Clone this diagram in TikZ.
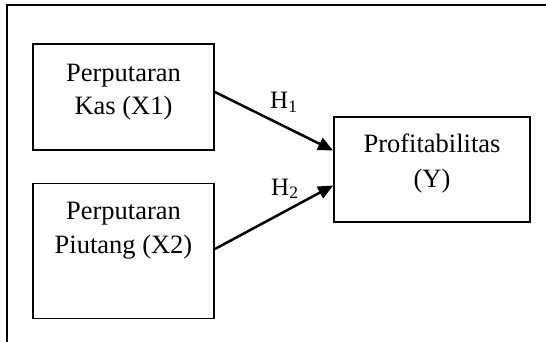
\documentclass[tikz,border=0pt]{standalone}
\usepackage{fontspec}
\setmainfont{Liberation Serif}
\usetikzlibrary{arrows.meta}
\begin{document}
\begin{tikzpicture}[x=1pt,y=-1pt,
  box/.style={draw,line width=1.8pt,inner sep=0pt},
  txt/.style={inner sep=0pt,anchor=base,font=\fontsize{26.5}{33}\selectfont},
  hlab/.style={inner sep=0pt,anchor=base west,font=\fontsize{25}{30}\selectfont},
  arr/.style={line width=2.5pt,-{Triangle[length=15pt,width=13pt]}}]
\useasboundingbox (0,0) rectangle (546,342);
\draw[line width=1.8pt] (546,5) -- (7,5) -- (7,342);
\node[box,minimum width=181pt,minimum height=106pt] (a) at (123.5,97) {};
\node[box,minimum width=181pt,minimum height=135pt] (b) at (123.5,251) {};
\node[box,minimum width=196pt,minimum height=105pt] (c) at (432,169.5) {};
\node[txt] (a1) at (123.5,82) {Perputaran};
\node[txt] (a2) at (123.5,115) {Kas (X1)};
\node[txt] (b1) at (123.5,219.5) {Perputaran};
\node[txt] (b2) at (123.5,253) {Piutang (X2)};
\node[txt] (c1) at (432,153) {Profitabilitas};
\node[txt] (c2) at (432,187) {(Y)};
\draw[arr] ([yshift=5pt]a.east) -- ([yshift=19pt]c.west);
\draw[arr] ([yshift=2pt]b.east) -- ([yshift=-16pt]c.west);
\node[hlab] (h1) at (270,109) {H\textsubscript{1}};
\node[hlab] (h2) at (271,195) {H\textsubscript{2}};
\end{tikzpicture}
\end{document}
